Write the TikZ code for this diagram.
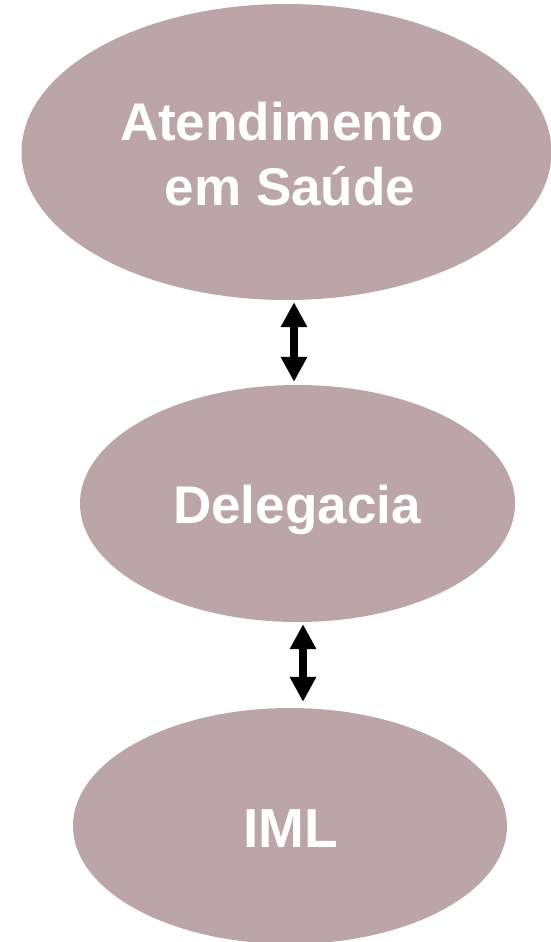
\documentclass[tikz,border=0pt]{standalone}
\usepackage{fontspec}
\setmainfont{Liberation Sans}
\usetikzlibrary{shapes.geometric,arrows.meta}
\definecolor{mauve}{RGB}{187,165,168}
\tikzset{
  oval/.style={ellipse,fill=mauve,draw=none,inner sep=0pt},
  lbl/.style={anchor=base,text=white,inner sep=0pt,font=\fontsize{53}{60}\selectfont\bfseries},
  dblarrow/.style={line width=7.5pt,{Triangle[width=25pt,length=25pt]}-{Triangle[width=25pt,length=25pt]}}
}
\begin{document}
\begin{tikzpicture}[x=1pt,y=-1pt]
\useasboundingbox (0,0) rectangle (551,942);
\node[oval,minimum width=530pt,minimum height=296pt] (e1) at (286.5,152) {};
\node[oval,minimum width=435pt,minimum height=237pt] (e2) at (297.5,503.5) {};
\node[oval,minimum width=434pt,minimum height=236pt] (e3) at (290,826) {};
\node[lbl] (t1) at (282,140) {Atendimento};
\node[lbl] (t2) at (290,205) {em Saúde};
\node[lbl] (t3) at (297,523) {Delegacia};
\node[lbl,font=\fontsize{55}{60}\selectfont\bfseries] (t4) at (291,847) {IML};
\coordinate (a1) at (294,0);
\coordinate (a2) at (303,0);
\draw[dblarrow,shorten <=2pt,shorten >=3pt] (a1 |- e1.south) -- (a1 |- e2.north);
\draw[dblarrow,shorten <=2pt,shorten >=6pt] (a2 |- e2.south) -- (a2 |- e3.north);
\end{tikzpicture}
\end{document}
